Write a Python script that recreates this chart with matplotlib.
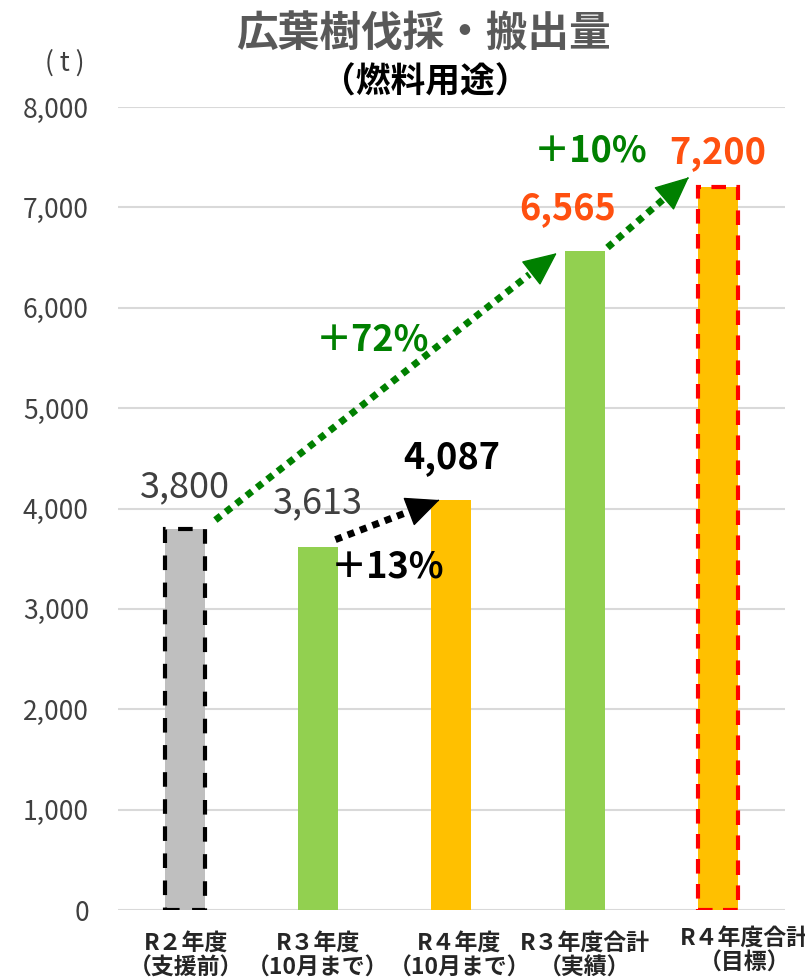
import matplotlib.pyplot as plt
import numpy as np

plt.rcParams['font.family'] = ['Noto Sans CJK JP', 'DejaVu Sans']

# データ
categories = ['R２年度\n（支援前）', 'R３年度\n（10月まで）', 'R４年度\n（10月まで）',
              'R３年度合計\n（実績）', 'R４年度合計\n（目標）']
values = [3800, 3613, 4087, 6565, 7200]
bar_colors = ['#BFBFBF', '#92D050', '#FFC000', '#92D050', '#FFC000']
label_colors = ['#404040', '#404040', '#000000', '#FF5010', '#FF5010']
label_weights = ['normal', 'normal', 'bold', 'bold', 'bold']

# 増加率の矢印 (始点, 終点, ラベル, 色)
growth_arrows = [
    ((0.23, 3885), (2.79, 6545), '＋72%', '#008000'),
    ((3.17, 6600), (3.78, 7300), '＋10%', '#008000'),
    ((1.13, 3690), (1.91, 4085), '＋13%', '#000000'),
]
growth_text_pos = [(1.41, 5680), (3.04, 7560), (1.52, 3420)]

fig = plt.figure(figsize=(8.05, 9.8), dpi=100)
ax = fig.add_axes([0.1466, 0.0714, 0.8284, 0.8194])

x = np.arange(len(values))
bars = ax.bar(x, values, width=0.3, color=bar_colors, zorder=2)

# 破線の枠
bars[0].set_edgecolor('black')
bars[0].set_linestyle((0, (3.5, 3)))
bars[0].set_linewidth(3)
bars[4].set_edgecolor('#FF0000')
bars[4].set_linestyle((0, (3.5, 2.5)))
bars[4].set_linewidth(3)

# 値ラベル
label_offsets = [(0.0, 410), (0.0, 440), (0.0, 425), (-0.13, 425), (0.0, 350)]
for i, v in enumerate(values):
    dx, dy = label_offsets[i]
    ax.text(i + dx, v + dy, f'{v:,}', ha='center', va='center',
            fontsize=26, color=label_colors[i], fontweight=label_weights[i])

# 点線の矢印（線と矢じりを分けて描く）
for (start, end, txt, col), pos in zip(growth_arrows, growth_text_pos):
    sx, sy = start
    ex, ey = end
    ax.annotate('', xy=(ex - 0.08 * (ex - sx), ey - 0.08 * (ey - sy)), xytext=start,
                arrowprops=dict(arrowstyle='-', color=col, lw=5,
                                linestyle=(0, (1, 0.9)), shrinkA=0, shrinkB=0,
                                capstyle='butt'),
                zorder=3)
    ax.annotate('', xy=end, xytext=(ex - 0.01 * (ex - sx), ey - 0.01 * (ey - sy)),
                arrowprops=dict(arrowstyle='-|>,head_length=1.1,head_width=0.5',
                                mutation_scale=20, color=col, lw=1,
                                shrinkA=0, shrinkB=0),
                zorder=3)
    ax.text(pos[0], pos[1], txt, ha='center', va='center', fontsize=26,
            color=col, fontweight='bold')

ax.set_xlim(-0.5, 4.5)
ax.set_ylim(0, 8000)
ax.set_yticks(np.arange(0, 8001, 1000))
ax.set_yticklabels([f'{t:,}' for t in range(0, 8001, 1000)], fontsize=19, color='#404040')
ax.yaxis.grid(True, color='#D9D9D9', linewidth=1.5, zorder=0)
ax.set_axisbelow(True)
ax.tick_params(axis='y', length=0, pad=21)
ax.tick_params(axis='x', length=0, labelbottom=False)
for s in ax.spines.values():
    s.set_visible(False)
ax.set_xticks(x)

# 横軸ラベル
xlabel_pos = [(0.01, -0.027), (0.0, -0.027), (0.06, -0.027), (0.0, -0.027), (0.2, -0.021)]
xt = ax.get_xaxis_transform()
for i, (lab, (dx, y)) in enumerate(zip(categories, xlabel_pos)):
    ax.text(i + dx, y, lab, transform=xt, ha='center', va='top', fontsize=16.5,
            fontweight='bold', linespacing=1.1, color='#262626', clip_on=False)

fig.text(0.526, 0.965, '広葉樹伐採・搬出量', ha='center', va='center',
         fontsize=30, fontweight='bold', color='#595959')
fig.text(0.528, 0.916, '（燃料用途）', ha='center', va='center',
         fontsize=25, fontweight='bold', color='black')
fig.text(0.081, 0.936, '( t )', ha='center', va='center', fontsize=19, color='#404040')

fig.savefig('out.png', dpi=100)
